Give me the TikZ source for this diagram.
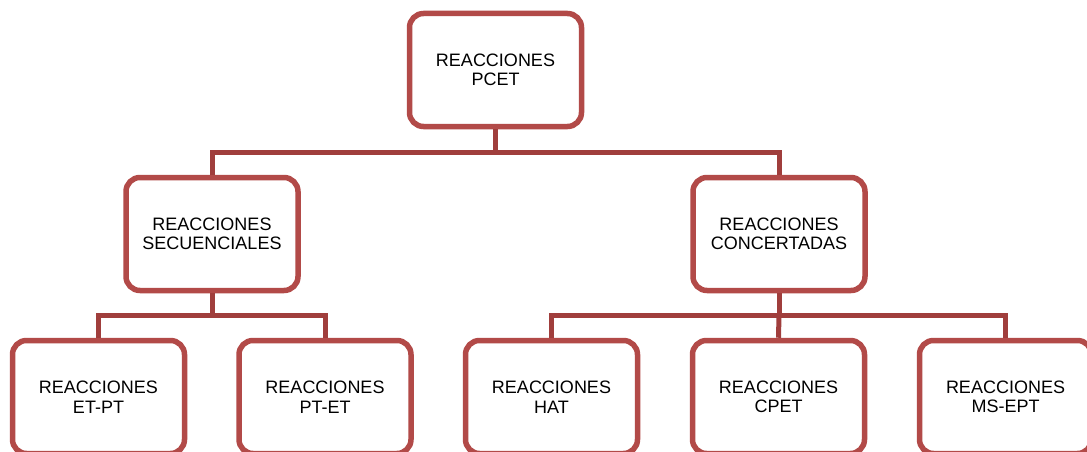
\documentclass[tikz,border=0pt]{standalone}
\usepackage{fontspec}
\setmainfont{Liberation Sans}
\definecolor{boxred}{RGB}{178,74,72}
\definecolor{linered}{RGB}{160,62,60}
\begin{document}
\begin{tikzpicture}[x=1pt,y=-1pt,
  box/.style={draw=boxred, line width=5.5pt, rounded corners=14pt, fill=white,
    minimum width=172pt, minimum height=113pt, align=center, inner sep=0pt,
    font=\fontsize{18}{19.5}\selectfont, text=black},
  conn/.style={draw=linered, line width=5pt}]
\useasboundingbox (0,0) rectangle (1087,452);
\clip (0,0) rectangle (1087,452);
\node[box] (top) at (495.5,70) {REACCIONES\\PCET};
\node[box] (secu) at (212,234) {REACCIONES\\SECUENCIALES};
\node[box] (conc) at (779,234) {REACCIONES\\CONCERTADAS};
\node[box] (etpt) at (98.5,397) {REACCIONES\\ET-PT};
\node[box] (ptet) at (325,397) {REACCIONES\\PT-ET};
\node[box] (hat) at (551.5,397) {REACCIONES\\HAT};
\node[box] (cpet) at (778.5,397) {REACCIONES\\CPET};
\node[box] (msept) at (1005.5,397) {REACCIONES\\MS-EPT};
\coordinate (h1) at (495.5,152);
\coordinate (h2) at (212,315);
\coordinate (h3) at (779,315);
\begin{scope}[on background layer/.try]
\end{scope}
\draw[conn] (top.south) -- (h1) -| (secu.north);
\draw[conn] (h1) -| (conc.north);
\draw[conn] (secu.south) -- (h2) -| (etpt.north);
\draw[conn] (h2) -| (ptet.north);
\draw[conn] (conc.south) -- (h3) -| (hat.north);
\draw[conn] (h3) -| (msept.north);
\draw[conn] (h3) -- (cpet.north);
\end{tikzpicture}
\end{document}
